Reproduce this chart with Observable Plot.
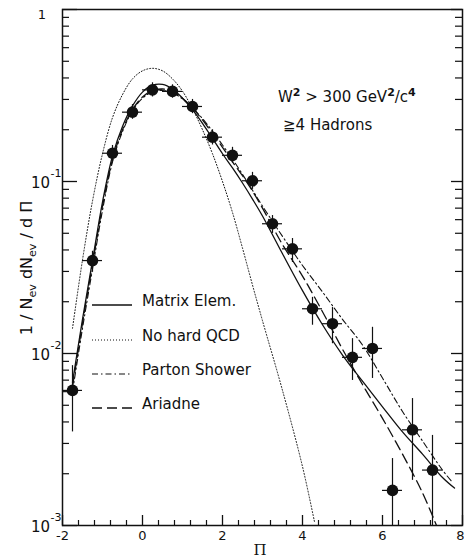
<!DOCTYPE html>
<html><head><meta charset="utf-8">
<script src="https://cdn.jsdelivr.net/npm/d3@7"></script>
<script src="https://cdn.jsdelivr.net/npm/@observablehq/plot@0.6"></script>
<style>
html,body{margin:0;padding:0;background:#fff;}
#chart{position:relative;width:464px;height:560px;overflow:hidden;}
</style></head><body><div id="chart"></div>
<script>
// ---- measured data points (Π bins) ----
const ptX  = [-1.75,-1.25,-0.75,-0.25,0.25,0.75,1.25,1.75,2.25,2.75,3.25,3.75,4.25,4.75,5.25,5.75,6.25,6.75,7.25];
const ptY  = [0.0061,0.0347,0.146,0.253,0.341,0.334,0.273,0.181,0.142,0.101,0.0568,0.0406,0.0182,0.0149,0.0095,0.0107,0.0016,0.0036,0.0021];
const ptLo = [0.0035,0.0297,0.131,0.23,0.31,0.305,0.248,0.163,0.128,0.09,0.0499,0.0338,0.0146,0.0114,0.00697,0.00716,0.001,0.00183,0.001];
const ptHi = [0.0085,0.0393,0.162,0.28,0.375,0.365,0.3,0.2,0.158,0.113,0.0634,0.0466,0.0212,0.0185,0.0122,0.0142,0.00245,0.00547,0.00334];
const binHalfWidth = 0.25;

// ---- model curves ----
const meX = [-1.75,-1.5,-1.25,-1,-0.75,-0.5,-0.25,0,0.25,0.5,0.75,1,1.25,1.5,1.75,2,2.25,2.5,2.75,3,3.5,4,4.5,5,5.5,6,6.5,7,7.5,7.8];
const meY = [0.0068,0.0158,0.0347,0.076,0.141,0.209,0.275,0.331,0.363,0.367,0.345,0.305,0.262,0.218,0.178,0.145,0.12,0.098,0.079,0.063,0.038,0.0232,0.0147,0.0098,0.0069,0.0049,0.0035,0.0026,0.0019,0.00165];

const nhX = [-1.75,-1.5,-1.25,-1,-0.75,-0.5,-0.25,0,0.25,0.5,0.75,1,1.25,1.5,1.75,2,2.25,2.5,2.75,3,3.5,4,4.3];
const nhY = [0.014,0.035,0.077,0.145,0.235,0.32,0.395,0.44,0.455,0.44,0.395,0.335,0.265,0.2,0.145,0.1,0.066,0.041,0.025,0.0155,0.0061,0.0022,0.00105];

const psX = [-1.75,-1.5,-1.25,-1,-0.75,-0.5,-0.25,0,0.25,0.5,0.75,1,1.25,1.5,1.75,2,2.25,2.5,2.75,3,3.5,4,4.5,5,5.5,6,6.5,7,7.5,7.75];
const psY = [0.006,0.014,0.031,0.068,0.13,0.195,0.258,0.305,0.332,0.338,0.328,0.302,0.268,0.232,0.196,0.163,0.135,0.11,0.089,0.072,0.048,0.0325,0.0228,0.0158,0.0112,0.0072,0.0046,0.0031,0.0021,0.00178];

const arX = [-1.75,-1.5,-1.25,-1,-0.75,-0.5,-0.25,0,0.25,0.5,0.75,1,1.25,1.5,1.75,2,2.25,2.5,2.75,3,3.5,4,4.5,5,5.5,6,6.5,7,7.35];
const arY = [0.0064,0.015,0.033,0.072,0.134,0.2,0.262,0.31,0.338,0.345,0.335,0.305,0.268,0.228,0.19,0.158,0.13,0.108,0.088,0.07,0.043,0.0282,0.0175,0.0106,0.0066,0.0042,0.0026,0.00155,0.001];

// ---- axes ----
const xMajor = [-2,0,2,4,6,8];
const xTickLabels = ["-2","0","2","4","6","8"];
const xMinor = [-1.6,-1.2,-0.8,-0.4,0.4,0.8,1.2,1.6,2.4,2.8,3.2,3.6,4.4,4.8,5.2,5.6,6.4,6.8,7.2,7.6];
const yMajor = [1,0.1,0.01,0.001];
const yTickBase = ["1","10","10","10"];
const yTickExp = ["","-1","-2","-3"];
const yMinor = [0.002,0.003,0.004,0.005,0.006,0.007,0.008,0.009,0.02,0.03,0.04,0.05,0.06,0.07,0.08,0.09,0.2,0.3,0.4,0.5,0.6,0.7,0.8,0.9];

const legendLabels = ["Matrix Elem.","No hard QCD","Parton Shower","Ariadne"];
const legendDash = [null,"1,2","6,3,1.5,3","10,5"];
const legendWidth = [1.3,1,1.1,1.3];

const W = 464, H = 560, mL = 62, mR = 2, mT = 9, mB = 35;
const fw = W - mL - mR, fh = H - mT - mB;
const ink = "#111";
const F = "DejaVu Sans, sans-serif";

const pts = ptX.map((x,i) => ({x, y: ptY[i], lo: ptLo[i], hi: ptHi[i]}));
const curve = (xs, ys) => xs.map((x,i) => ({x, y: ys[i]}));
const lastTick = xMajor.length - 1;

const plot = Plot.plot({
  width: W, height: H,
  marginLeft: mL, marginRight: mR, marginTop: mT, marginBottom: mB,
  style: {background: "#fff", color: ink, fontFamily: F, overflow: "visible"},
  x: {domain: [-2, 8], axis: null},
  y: {type: "log", domain: [0.001, 1], axis: null},
  marks: [
    Plot.line(curve(nhX, nhY), {x: "x", y: "y", stroke: ink, strokeWidth: 1, strokeDasharray: "1,2", curve: "catmull-rom", clip: true}),
    Plot.line(curve(psX, psY), {x: "x", y: "y", stroke: ink, strokeWidth: 1.1, strokeDasharray: "6,3,1.5,3", curve: "catmull-rom", clip: true}),
    Plot.line(curve(arX, arY), {x: "x", y: "y", stroke: ink, strokeWidth: 1.3, strokeDasharray: "10,5", curve: "catmull-rom", clip: true}),
    Plot.line(curve(meX, meY), {x: "x", y: "y", stroke: ink, strokeWidth: 1.3, curve: "catmull-rom", clip: true}),
    Plot.ruleY(pts, {x1: d => d.x - binHalfWidth, x2: d => d.x + binHalfWidth, y: "y", stroke: ink, strokeWidth: 1.2, clip: true}),
    Plot.ruleX(pts, {x: "x", y1: "lo", y2: "hi", stroke: ink, strokeWidth: 1.2, clip: true}),
    Plot.dot(pts, {x: "x", y: "y", r: 5.8, fill: ink, stroke: null}),
    Plot.frame({stroke: ink, strokeWidth: 1.5}),
    Plot.ruleX(xMajor, {stroke: ink, strokeWidth: 1.3, insetTop: fh - 10}),
    Plot.ruleX(xMinor, {stroke: ink, strokeWidth: 1.2, insetTop: fh - 5}),
    Plot.ruleY(yMajor, {stroke: ink, strokeWidth: 1.3, insetRight: fw - 15}),
    Plot.ruleY(yMinor, {stroke: ink, strokeWidth: 1.2, insetRight: fw - 7}),
    Plot.ruleY(yMajor, {stroke: ink, strokeWidth: 1.3, insetLeft: fw - 11}),
    Plot.ruleY(yMinor, {stroke: ink, strokeWidth: 1.2, insetLeft: fw - 7}),
    Plot.text(xMajor.slice(0, lastTick), {x: d => d, text: (d,i) => xTickLabels[i], frameAnchor: "bottom", dy: 14, fontSize: 13, fill: ink}),
    Plot.text([xMajor[lastTick]], {x: d => d, text: () => xTickLabels[lastTick], frameAnchor: "bottom", dy: 14, dx: 2, textAnchor: "end", fontSize: 13, fill: ink})
  ]
});
document.getElementById("chart").appendChild(plot);

const svg = d3.select(plot);
const ys = plot.scale("y");

// y tick labels with superscript exponents
yMajor.forEach((v, i) => {
  const py = ys.apply(v);
  if (yTickExp[i] === "") {
    svg.append("text").attr("x", 42).attr("y", py + 10).attr("text-anchor", "middle")
      .attr("font-family", F).attr("font-size", 13).attr("fill", ink).text(yTickBase[i]);
  } else {
    svg.append("text").attr("x", 50).attr("y", py + 6.5).attr("text-anchor", "end")
      .attr("font-family", F).attr("font-size", 15).attr("fill", ink).text(yTickBase[i]);
    svg.append("text").attr("x", 50.5).attr("y", py - 4).attr("text-anchor", "start")
      .attr("font-family", F).attr("font-size", 11).attr("fill", ink).text(yTickExp[i]);
  }
});

// x axis label
svg.append("text").attr("x", 260).attr("y", 555).attr("text-anchor", "middle")
  .attr("font-family", "DejaVu Serif, serif").attr("font-size", 15).attr("fill", ink).text("Π");

// y axis label
const yl = svg.append("text").attr("transform", "translate(32,268) rotate(-90)")
  .attr("text-anchor", "middle").attr("font-family", F).attr("font-size", 16).attr("fill", ink);
yl.append("tspan").text("1 / N");
yl.append("tspan").attr("font-size", 11).attr("dy", 4).text("ev");
yl.append("tspan").attr("dy", -4).text(" dN");
yl.append("tspan").attr("font-size", 11).attr("dy", 4).text("ev");
yl.append("tspan").attr("dy", -4).text(" / d Π");

// annotation
const a1 = svg.append("text").attr("x", 278).attr("y", 102).attr("text-anchor", "start")
  .attr("font-family", F).attr("font-size", 15).attr("fill", ink);
a1.append("tspan").text("W");
a1.append("tspan").attr("font-size", 11).attr("font-weight", "bold").attr("dy", -6).text("2");
a1.append("tspan").attr("dy", 6).text(" > 300 GeV");
a1.append("tspan").attr("font-size", 11).attr("font-weight", "bold").attr("dy", -6).text("2");
a1.append("tspan").attr("dy", 6).text("/c");
a1.append("tspan").attr("font-size", 11).attr("font-weight", "bold").attr("dy", -6).text("4");
svg.append("text").attr("x", 283).attr("y", 130).attr("text-anchor", "start")
  .attr("font-family", F).attr("font-size", 15).attr("fill", ink).text("≧4 Hadrons");

// legend
const legBase = [306, 341, 375, 409];
legendLabels.forEach((lab, i) => {
  svg.append("line").attr("x1", 92).attr("x2", 132).attr("y1", legBase[i] - 1).attr("y2", legBase[i] - 1)
    .attr("stroke", ink).attr("stroke-width", legendWidth[i]).attr("stroke-dasharray", legendDash[i]);
  svg.append("text").attr("x", 142).attr("y", legBase[i]).attr("text-anchor", "start")
    .attr("font-family", F).attr("font-size", 15).attr("fill", ink).text(lab);
});
</script></body></html>
